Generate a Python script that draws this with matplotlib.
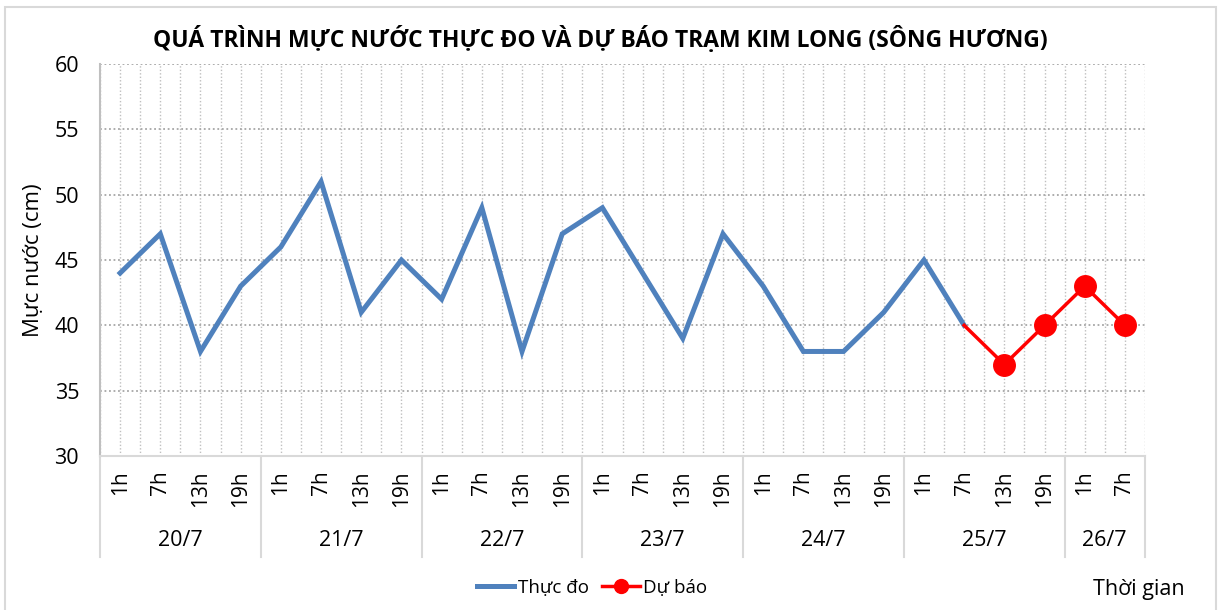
import numpy as np
import matplotlib
matplotlib.use('Agg')
import matplotlib.pyplot as plt
import matplotlib.transforms as mtransforms
from matplotlib.patches import Rectangle

plt.rcParams['font.family'] = ['Open Sans', 'DejaVu Sans']

# du lieu doc tu hinh
ngay = ['20/7', '21/7', '22/7', '23/7', '24/7', '25/7', '26/7']
so_gio_moi_ngay = [4, 4, 4, 4, 4, 4, 2]
gio = ['1h', '7h', '13h', '19h'] * 6 + ['1h', '7h']
thuc_do = [44, 47, 38, 43,
           46, 51, 41, 45,
           42, 49, 38, 47,
           49, 44, 39, 47,
           43, 38, 38, 41,
           45, 40]
du_bao = [None] * 21 + [40, 37, 40, 43, 40]

x = np.arange(len(gio))
x_td = x[:len(thuc_do)]
y_db = np.array([np.nan if v is None else v for v in du_bao], dtype=float)

fig = plt.figure(figsize=(12.18, 6.10), dpi=100)
ax = fig.add_axes([100 / 1218, 1 - 456 / 610, 1045 / 1218, (456 - 64) / 610])

# vien ngoai
fig.patches.append(Rectangle((5 / 1218, -0.01), 1211 / 1218, 1 - 7 / 610 + 0.01,
                             transform=fig.transFigure, fill=False,
                             edgecolor='#d9d9d9', linewidth=1.5))

ax.plot(x_td, thuc_do, color='#4f81bd', linewidth=3.6, solid_joinstyle='miter',
        label='Thực đo', zorder=3)
ax.plot(x, y_db, color='#ff0000', linewidth=2.5, zorder=4)
ax.plot(x[22:], y_db[22:], 'o', color='#ff0000', markersize=15.5, zorder=5)
# chi de lam legend
ax.plot([], [], color='#ff0000', linewidth=2.5, marker='o', markersize=10, label='Dự báo')

ax.set_xlim(-0.5, len(gio) - 0.5)
ax.set_ylim(30, 60)
ax.set_yticks(np.arange(30, 61, 5))
ax.set_xticks(x)
ax.set_xticklabels(gio, rotation=90, fontsize=15)
ax.set_xticks(np.arange(-0.5, len(gio), 1), minor=True)
ax.tick_params(axis='y', labelsize=15.5, length=0, pad=15)
ax.tick_params(axis='x', which='both', length=0, pad=10)

ax.grid(True, axis='y', linestyle=(0, (1, 1.5)), color='#a6a6a6', linewidth=1.3)
ax.grid(True, axis='x', which='both', linestyle=(0, (1, 1.5)), color='#bfbfbf', linewidth=1.0)
ax.set_axisbelow(True)

for s in ['top', 'right']:
    ax.spines[s].set_visible(False)
ax.spines['left'].set_color('#bfbfbf')
ax.spines['left'].set_linewidth(1.5)
ax.spines['bottom'].set_color('#d9d9d9')
ax.spines['bottom'].set_linewidth(1.5)

# truc phan loai 2 cap: duong phan cach va nhan ngay
trans = mtransforms.blended_transform_factory(ax.transData, ax.transAxes)
day_h = (557 - 456) / (456 - 64)
bien = np.concatenate([[0], np.cumsum(so_gio_moi_ngay)]) - 0.5
for b in bien:
    ax.plot([b, b], [0, -day_h], transform=trans, color='#d9d9d9',
            linewidth=1.5, clip_on=False)
for i, d in enumerate(ngay):
    tam = (bien[i] + bien[i + 1]) / 2
    ax.text(tam, -(540 - 456) / (456 - 64), d, transform=trans,
            ha='center', va='center', fontsize=15.5)

ax.set_ylabel('Mực nước (cm)', fontsize=16)
ax.yaxis.set_label_coords(-56 / 1045, 0.5)

fig.text(600 / 1218, 1 - 40 / 610,
         'QUÁ TRÌNH MỰC NƯỚC THỰC ĐO VÀ DỰ BÁO TRẠM KIM LONG (SÔNG HƯƠNG)',
         ha='center', va='center', fontsize=16.5, fontweight='bold')
fig.text(1139 / 1218, 1 - 590 / 610, 'Thời gian', ha='center', va='center', fontsize=15.5)

fig.legend(loc='center', bbox_to_anchor=(592 / 1218, 1 - 588 / 610), ncol=2,
           frameon=False, fontsize=13.5, handlelength=2.0, handletextpad=0.2,
           columnspacing=0.7)

fig.savefig('out.png', dpi=100)
